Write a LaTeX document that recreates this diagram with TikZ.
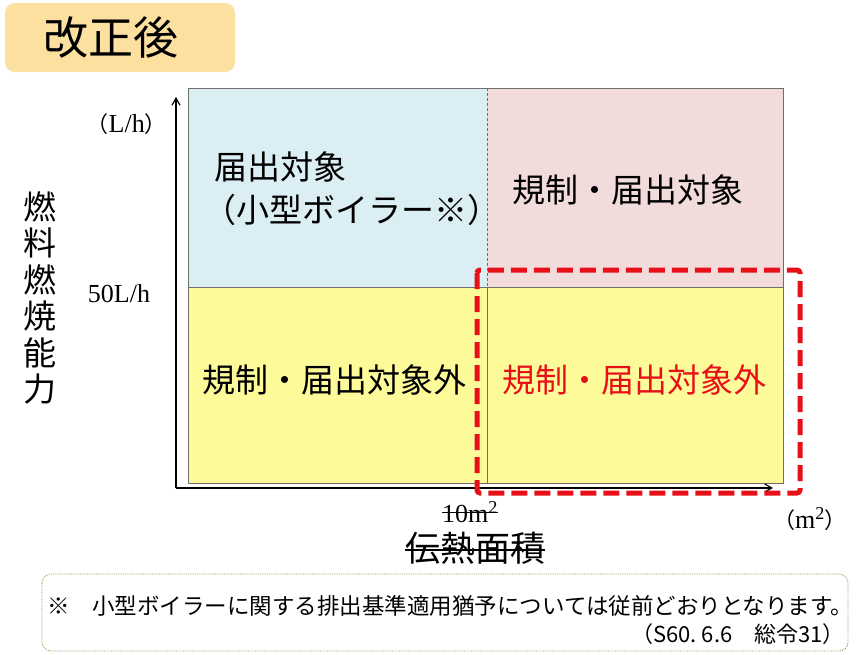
\documentclass[tikz,border=0pt]{standalone}
\usepackage{fontspec}
\setmainfont{Liberation Serif}
\newfontfamily\jp{Noto Sans CJK JP}
\usetikzlibrary{arrows.meta,positioning}
\definecolor{TitleOrange}{RGB}{252,224,160}
\definecolor{CellBlue}{RGB}{218,238,243}
\definecolor{CellPink}{RGB}{242,220,219}
\definecolor{CellYellow}{RGB}{253,250,154}
\definecolor{MarkRed}{RGB}{232,16,24}
\definecolor{NoteGreen}{RGB}{118,160,80}
\definecolor{CellGray}{RGB}{110,110,110}

\begin{document}
\begin{tikzpicture}[>={Straight Barb[length=7pt,width=8pt]},x=1pt,y=-1pt,
  cellline/.style={draw=CellGray,line width=1pt},
  celltext/.style={font=\jp\fontsize{33}{38}\selectfont,inner sep=0pt},
  axislabel/.style={font=\fontsize{26}{30}\selectfont,inner sep=0pt},
  notetext/.style={font=\jp\fontsize{22.5}{26}\selectfont,inner sep=0pt}]
\useasboundingbox (0,0) rectangle (863,654);
\fill[white] (0,0) rectangle (863,654);

\fill[TitleOrange,rounded corners=10pt] (5,3) rectangle (235,72);
\node[font=\jp\fontsize{45}{50}\selectfont,inner sep=0pt] (title) at (111,37) {改正後};

\fill[CellBlue] (188,88) rectangle (487,287);
\fill[CellPink] (487,88) rectangle (783,287);
\fill[CellYellow] (188,287) rectangle (783,483);
\draw[cellline] (188,88) rectangle (783,483);
\draw[cellline] (188,287) -- (783,287);
\draw[CellGray,densely dashed,line width=0.6pt] (487,88) -- (487,287);
\draw[cellline] (487,287) -- (487,483);

\node[celltext,anchor=west] (notify) at (214,167) {届出対象};
\node[celltext,anchor=west] (smallboiler) at (203,210) {（小型ボイラー※）};
\node[celltext] (regnotify) at (628,190) {規制・届出対象};
\node[celltext] (exemptleft) at (334,380) {規制・届出対象外};
\node[celltext,text=MarkRed] (exemptright) at (634,380) {規制・届出対象外};

\coordinate (origin) at (176,488);
\coordinate (ytip) at (176,97);
\coordinate (xtip) at (773,488);
\draw[->,line width=1.2pt] (origin) -- (ytip);
\draw[->,line width=1.2pt] (origin) -- (xtip);

\node[axislabel,anchor=east] (yunit) at (167,124) {{\jp\fontsize{22}{26}\selectfont（}L/h{\jp\fontsize{22}{26}\selectfont）}};
\node[axislabel] (fifty) at (119,294) {50L/h};
\node[font=\jp\fontsize{33}{36.5}\selectfont,align=center,inner sep=0pt] (yname) at (40,298) {燃\\料\\燃\\焼\\能\\力};

\node[axislabel] (tenm) at (470,512) {10m\textsuperscript{2}};
\draw[line width=1pt] (tenm.west) -- (tenm.east);
\node[axislabel] (xunit) at (810,519) {{\jp\fontsize{22}{26}\selectfont（}m\textsuperscript{2}{\jp\fontsize{22}{26}\selectfont）}};
\node[font=\jp\fontsize{35}{40}\selectfont,inner sep=0pt] (xname) at (475,548) {伝熱面積};
\draw[line width=1.5pt] ([yshift=-2pt]xname.west) -- ([yshift=-2pt]xname.east);

\draw[MarkRed,line width=5pt,dash pattern=on 16pt off 7pt,rounded corners=3pt] (477,270) rectangle (800,493);

\draw[NoteGreen,densely dotted,line width=0.8pt,rounded corners=9pt] (42,574) rectangle (848,651);
\node[notetext,anchor=west] (notebody) at (47,606) {※　小型ボイラーに関する排出基準適用猶予については従前どおりとなります。};
\node[notetext,anchor=east,font=\jp\fontsize{22}{26}\selectfont] (notesource) at (845,634) {（S60.\ 6.6　総令31）};
\end{tikzpicture}
\end{document}
